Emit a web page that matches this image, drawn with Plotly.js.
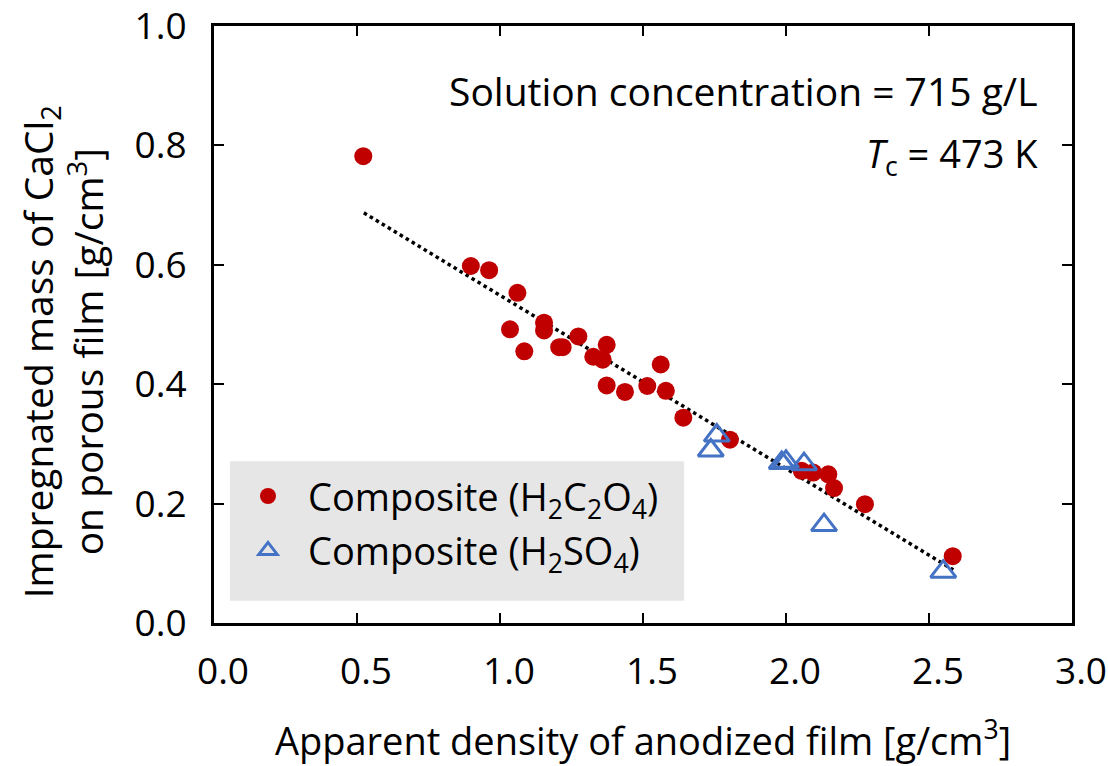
<!DOCTYPE html>
<html>
<head>
<meta charset="utf-8">
<script src="https://cdn.plot.ly/plotly-3.0.1.min.js"></script>
<style>html,body{margin:0;padding:0;background:#fff;}#chart{width:1108px;height:766px;}</style>
</head>
<body>
<div id="chart"></div>
<script>
// Composite (H2C2O4) - red circles
const oxalicX = [0.522, 0.898, 0.962, 1.061, 1.035, 1.085, 1.154, 1.154, 1.207, 1.219, 1.274, 1.326, 1.359, 1.373, 1.373, 1.437, 1.515, 1.562, 1.580, 1.641, 1.804, 2.055, 2.095, 2.148, 2.168, 2.276, 2.583];
const oxalicY = [0.782, 0.598, 0.591, 0.553, 0.492, 0.455, 0.503, 0.490, 0.462, 0.462, 0.480, 0.446, 0.441, 0.466, 0.398, 0.387, 0.397, 0.433, 0.389, 0.344, 0.307, 0.255, 0.252, 0.249, 0.226, 0.199, 0.112];
// Composite (H2SO4) - blue open triangles
const sulfuricX = [1.737, 1.758, 1.985, 2.000, 2.063, 2.133, 2.550];
const sulfuricY = [0.289, 0.314, 0.268, 0.270, 0.266, 0.164, 0.086];
// Linear trend line (endpoints)
const trendX = [0.524, 2.585];
const trendY = [0.687, 0.089];

const xTicks = [0.0, 0.5, 1.0, 1.5, 2.0, 2.5, 3.0];
const xTickLabels = ['0.0', '0.5', '1.0', '1.5', '2.0', '2.5', '3.0'];
const yTicks = [0.0, 0.2, 0.4, 0.6, 0.8, 1.0];
const yTickLabels = ['0.0', '0.2', '0.4', '0.6', '0.8', '1.0'];

const FONT = 'Open Sans, Noto Sans, sans-serif';

const traces = [
  {
    x: trendX, y: trendY, mode: 'lines', type: 'scatter',
    line: {color: '#000000', width: 3.5, dash: 'dot'},
    showlegend: false, hoverinfo: 'skip'
  },
  {
    x: oxalicX, y: oxalicY, mode: 'markers', type: 'scatter',
    name: 'Composite (H<sub>2</sub>C<sub>2</sub>O<sub>4</sub>)',
    legendgroup: 'a',
    marker: {symbol: 'circle', size: 18, color: '#C00000', line: {width: 0}}
  },
  {
    x: sulfuricX, y: sulfuricY, mode: 'markers', type: 'scatter',
    name: 'Composite (H<sub>2</sub>SO<sub>4</sub>)',
    legendgroup: 'b',
    marker: {symbol: 'triangle-up-open', size: 22, color: '#4472C4', line: {width: 3, color: '#4472C4'}}
  }
];

const axisCommon = {
  showline: true, linecolor: '#000', linewidth: 3, mirror: 'ticks',
  ticks: 'inside', ticklen: 10, tickwidth: 2, tickcolor: '#000',
  showgrid: false, zeroline: false, ticklabeloverflow: 'allow',
  tickfont: {family: FONT, size: 37, color: '#000'}
};

const layout = {
  width: 1108, height: 766,
  margin: {l: 214, r: 36, t: 25.5, b: 143},
  paper_bgcolor: '#fff', plot_bgcolor: '#fff',
  font: {family: FONT, color: '#000'},
  xaxis: Object.assign({}, axisCommon, {
    range: [0, 3], tickvals: xTicks, ticktext: xTickLabels,
    ticklabelstandoff: 14, ticklabelshift: 9,
    title: {text: 'Apparent density of anodized film [g/cm<sup>3</sup>]', font: {family: FONT, size: 38, color: '#000'}, standoff: 40}
  }),
  yaxis: Object.assign({}, axisCommon, {
    range: [0, 1], tickvals: yTicks, ticktext: yTickLabels,
    ticklabelstandoff: 17
  }),
  showlegend: true,
  legend: {
    x: 0.0163, y: 0.265, xanchor: 'left', yanchor: 'top',
    bgcolor: 'rgba(0,0,0,0)', borderwidth: 0,
    font: {family: FONT, size: 38, color: '#000'},
    itemwidth: 70,
    traceorder: 'grouped', tracegroupgap: 2
  },
  shapes: [
    {type: 'rect', xref: 'paper', yref: 'paper', x0: 0.0186, x1: 0.548, y0: 0.0373, y1: 0.271,
     fillcolor: '#E6E6E6', line: {width: 0}, layer: 'below'}
  ],
  annotations: [
    {xref: 'paper', yref: 'paper', x: -0.176, y: 0.455, xanchor: 'center', yanchor: 'middle', textangle: -90,
     text: 'Impregnated mass of CaCl<sub>2</sub><br>on porous film [g/cm<sup>3</sup>]', showarrow: false,
     font: {family: FONT, size: 39, color: '#000'}},
    {xref: 'paper', yref: 'paper', x: 0.9627, y: 0.892, xanchor: 'right', yanchor: 'middle',
     text: 'Solution concentration = 715 g/L', showarrow: false, font: {family: FONT, size: 39, color: '#000'}},
    {xref: 'paper', yref: 'paper', x: 0.9627, y: 0.783, xanchor: 'right', yanchor: 'middle',
     text: '<i>T</i><sub>c</sub> = 473 K', showarrow: false, font: {family: FONT, size: 38, color: '#000'}}
  ]
};

Plotly.newPlot('chart', traces, layout, {staticPlot: true, displayModeBar: false});
</script>
</body>
</html>
